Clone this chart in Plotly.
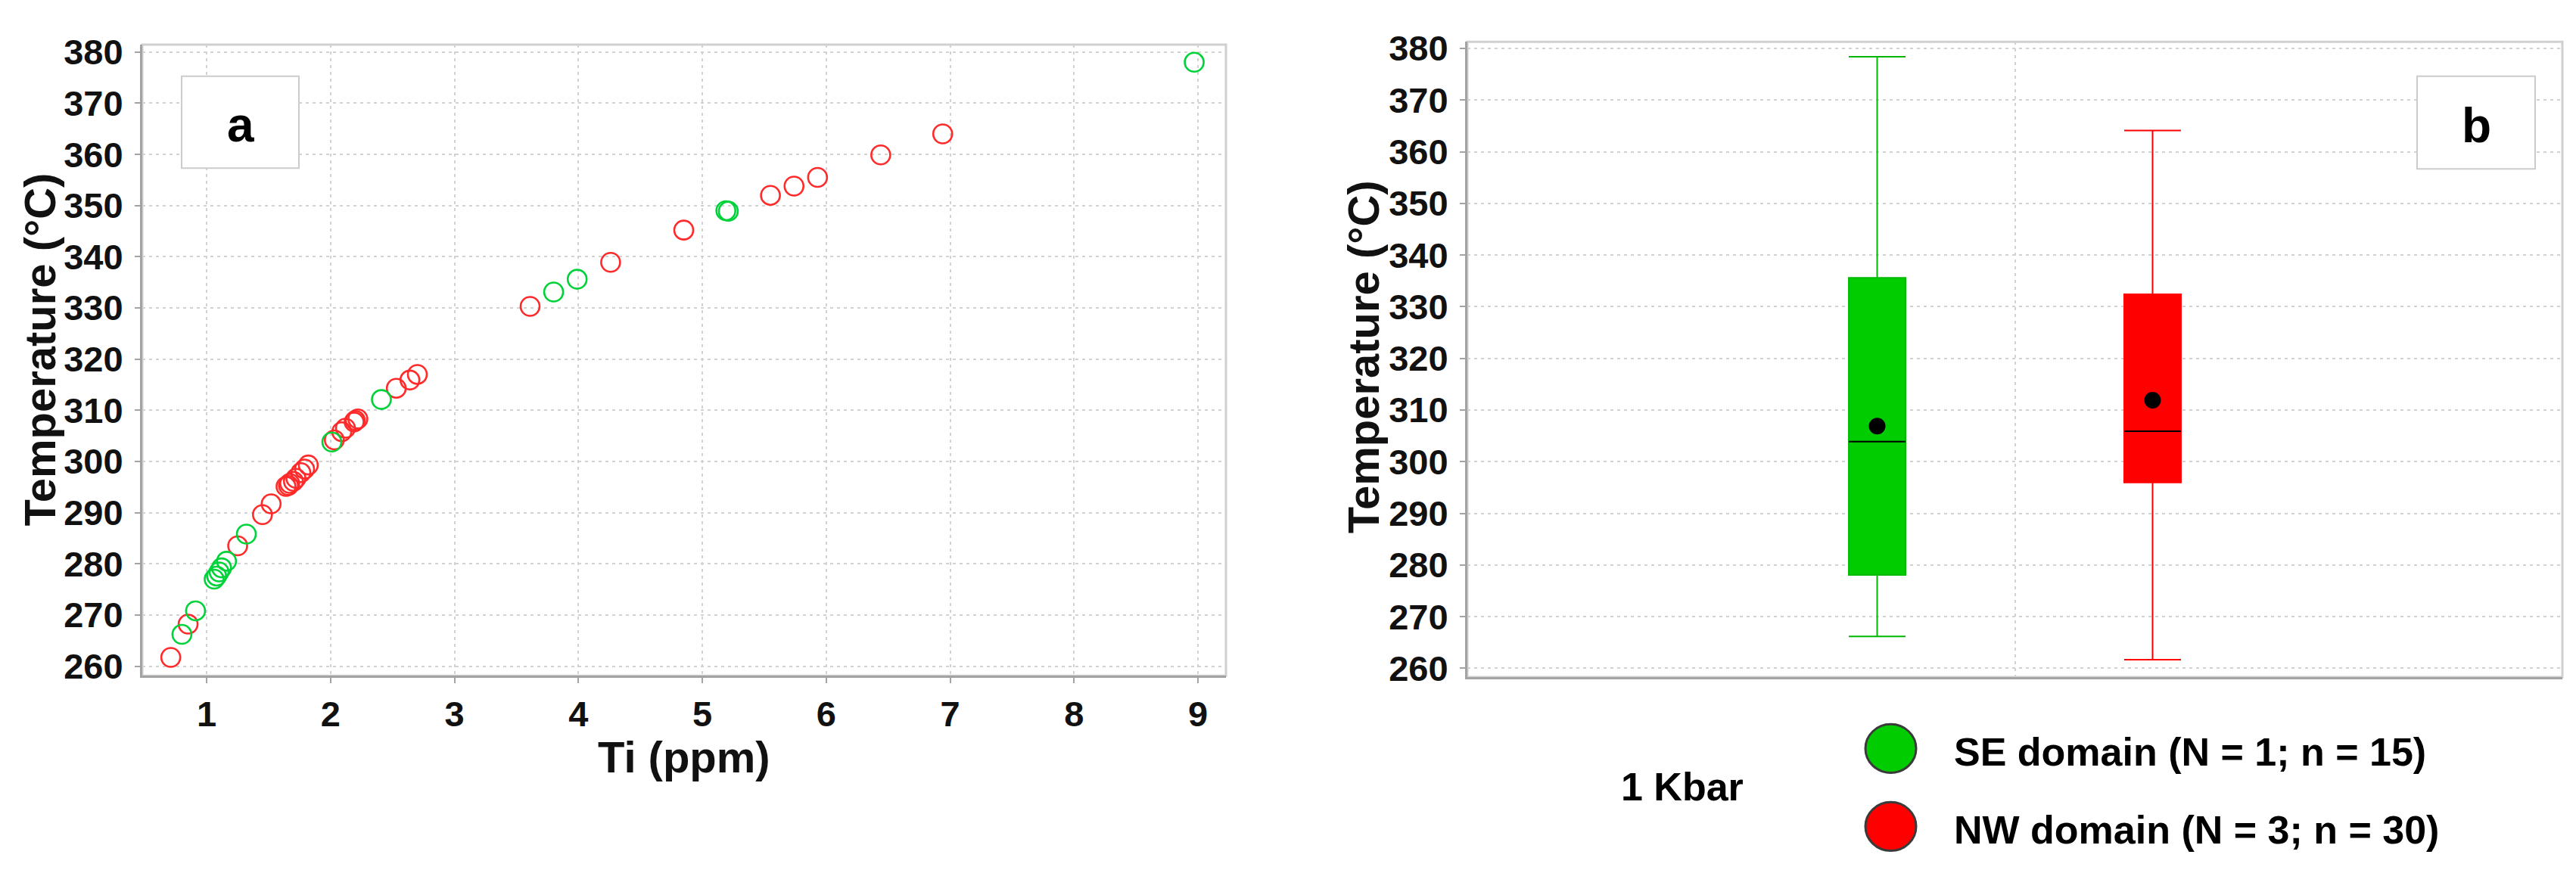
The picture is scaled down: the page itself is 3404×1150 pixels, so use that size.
import plotly.graph_objects as go

W, H = 3404, 1150

# ---------------------------------------------------------
# DATA
# ---------------------------------------------------------
se_ti = [0.80, 0.91, 1.06, 1.08, 1.10, 1.12, 1.16, 1.32, 2.01, 2.41, 3.80, 3.99, 5.19, 5.21, 8.97]
se_temp = [266.2, 270.8, 277.0, 277.6, 278.4, 279.2, 280.5, 285.8, 303.8, 312.1, 333.1, 335.6, 349.0, 348.9, 378.0]

nw_ti = [0.71, 0.85, 1.25, 1.45, 1.52, 1.64, 1.66, 1.67, 1.70, 1.72, 1.76, 1.79, 1.82,
         2.03, 2.09, 2.12, 2.19, 2.20, 2.22, 2.53, 2.64, 2.70, 3.61, 4.26, 4.85,
         5.55, 5.74, 5.93, 6.44, 6.94]
nw_temp = [261.7, 268.2, 283.5, 289.6, 291.7, 295.1, 295.3, 295.7, 296.1, 296.7, 297.8, 298.5, 299.3,
           304.2, 305.8, 306.5, 307.7, 308.0, 308.3, 314.3, 315.9, 317.0, 330.3, 338.9, 345.2,
           352.0, 353.8, 355.5, 359.9, 364.0]

box_pos = [1, 2]
box_lower = [266.2, 261.7]
box_q1 = [278.1, 296.0]
box_median = [303.9, 305.9]
box_q3 = [335.6, 332.4]
box_upper = [378.4, 364.1]
box_mean = [306.9, 311.9]
box_fill = ['#00cc00', '#ff0000']
box_line = ['#00b800', '#ff0000']
box_width = 0.206

legend_labels = ['SE domain (N = 1; n = 15)', 'NW domain (N = 3; n = 30)']

GREEN = '#00d23a'
RED = '#ff2a2a'
FONT = 'Liberation Sans, Arial, sans-serif'
GRID = '#d2d2d2'


def px(x):
    return x / W


def py(y):
    return 1 - y / H


def note(x, y, text, font, **kw):
    # annotation placed by pixel centre (paper coords)
    opts = dict(xanchor='center', yanchor='middle')
    opts.update(kw)
    fig.add_annotation(x=px(x), y=py(y), xref='paper', yref='paper', text=text,
                       showarrow=False, font=font, **opts)


fig = go.Figure()

# ---------------------------------------------------------
# PANEL a : scatter
# ---------------------------------------------------------
fig.add_trace(go.Scatter(
    x=nw_ti, y=nw_temp, mode='markers', xaxis='x', yaxis='y',
    marker=dict(symbol='circle-open', size=25, color=RED, line=dict(width=2.6, color=RED)),
    showlegend=False))
fig.add_trace(go.Scatter(
    x=se_ti, y=se_temp, mode='markers', xaxis='x', yaxis='y',
    marker=dict(symbol='circle-open', size=25, color=GREEN, line=dict(width=2.6, color=GREEN)),
    showlegend=False))

# ---------------------------------------------------------
# PANEL b : box plots
# ---------------------------------------------------------
for i in range(2):
    fig.add_trace(go.Box(
        x=[box_pos[i]], q1=[box_q1[i]], median=[box_median[i]], q3=[box_q3[i]],
        lowerfence=[box_lower[i]], upperfence=[box_upper[i]],
        width=box_width, whiskerwidth=1, fillcolor=box_fill[i],
        line=dict(color=box_line[i], width=2), boxpoints=False,
        xaxis='x2', yaxis='y2', showlegend=False, hoverinfo='skip'))
    fig.add_trace(go.Scatter(
        x=[box_pos[i] - box_width / 2, box_pos[i] + box_width / 2],
        y=[box_median[i], box_median[i]], mode='lines',
        line=dict(color='black', width=2), xaxis='x2', yaxis='y2', showlegend=False))

fig.add_trace(go.Scatter(
    x=box_pos, y=box_mean, mode='markers', xaxis='x2', yaxis='y2',
    marker=dict(color='black', size=22), showlegend=False))

# ---------------------------------------------------------
# AXES
# ---------------------------------------------------------
tickfont = dict(family=FONT, size=47, color='#111111', weight='bold')
common = dict(showline=True, linecolor='#a3a3a3', linewidth=3, ticklen=7,
              tickcolor='#a3a3a3', tickwidth=2, gridcolor=GRID, gridwidth=1.5,
              griddash='4px,5px', zeroline=False, tickfont=tickfont)

fig.update_layout(
    width=W, height=H,
    paper_bgcolor='white', plot_bgcolor='white',
    margin=dict(l=0, r=0, t=0, b=0),
    xaxis=dict(domain=[px(180), px(1612)], range=[0.48, 9.226], tickvals=list(range(1, 10)),
               anchor='y', ticks='outside', **common),
    yaxis=dict(domain=[py(893), py(35)], range=[258.13, 381.44], tickvals=list(range(260, 381, 10)),
               anchor='x', ticks='outside', ticklabelstandoff=6, **common),
    xaxis2=dict(domain=[px(1931), px(3378)], range=[-0.488, 3.488], tickvals=[1.5],
                showticklabels=False, anchor='y2', ticks='', **common),
    yaxis2=dict(domain=[py(895), py(31)], range=[258.3, 381.3], tickvals=list(range(260, 381, 10)),
                anchor='x2', ticks='outside', ticklabelstandoff=6, **common),
)

# frames (light top / right borders)
for xr, yr in (('x', 'y'), ('x2', 'y2')):
    fig.add_shape(type='rect', xref=xr + ' domain', yref=yr + ' domain', x0=0, x1=1, y0=0, y1=1,
                  line=dict(color='#d0d0d0', width=3), layer='below')

# panel letter boxes
for (x0, x1, y0, y1, letter) in ((232, 387, 78, 203, 'a'), (3186, 3342, 78, 204, 'b')):
    fig.add_shape(type='rect', xref='paper', yref='paper', x0=px(x0), x1=px(x1), y0=py(y1), y1=py(y0),
                  line=dict(color='#cccccc', width=2), fillcolor='white', layer='above')
    note((x0 + x1) / 2, (y0 + y1) / 2 + 4, letter,
         dict(family=FONT, size=64, color='black', weight='bold'))

# axis titles
title_font = dict(family=FONT, size=58, color='#111111', weight='bold')
note(896, 1003, 'Ti (ppm)', title_font)
note(44, 450, 'Temperature (°C)', title_font, textangle=-90)
note(1793, 460, 'Temperature (°C)', title_font, textangle=-90)

# ---------------------------------------------------------
# LEGEND (panel b)
# ---------------------------------------------------------
legend_font = dict(family=FONT, size=52, color='black', weight='bold')
note(2215, 1044, '1 Kbar', legend_font)
for label, color, cy in zip(legend_labels, box_fill, (992, 1098)):
    fig.add_shape(type='circle', xref='paper', yref='paper',
                  x0=px(2457), x1=px(2524), y0=py(cy + 33), y1=py(cy - 33),
                  fillcolor=color, line=dict(color='#3a3a3a', width=3))
    note(2572, cy + 5, label, legend_font, xanchor='left')

fig.write_html("out.html")
